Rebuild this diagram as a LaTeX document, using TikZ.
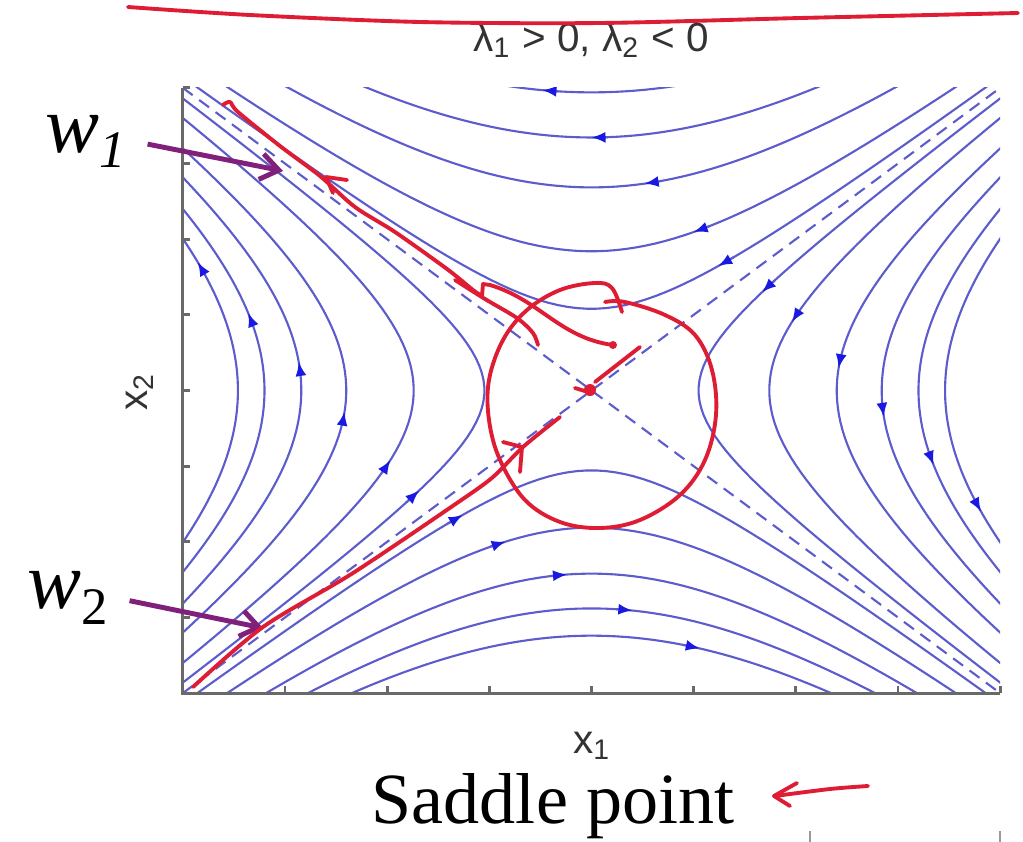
\documentclass[tikz,border=0pt]{standalone}
\usepackage{fontspec}
\setmainfont{Liberation Serif}
\setsansfont{Liberation Sans}
\usetikzlibrary{arrows.meta}
\definecolor{traj}{RGB}{92,92,205}
\definecolor{trajtip}{RGB}{25,25,225}
\definecolor{ink}{RGB}{222,28,52}
\definecolor{pen}{RGB}{128,32,122}
\definecolor{axisgray}{RGB}{105,105,105}

\begin{document}
\begin{tikzpicture}[
  x=0.01cm, y=-0.01cm,
  flow/.style={traj, line width=0.6pt},
  flowtip/.style={traj, line width=0.6pt, -{Latex[length=1.4mm,width=1.1mm,color=trajtip]}},
  sep/.style={traj, line width=0.6pt, dash pattern=on 3.5pt off 2.3pt},
  axis/.style={axisgray, line width=0.8pt},
  lbl/.style={font=\sffamily\fontsize{11.5}{13}\selectfont, text=black!80, inner sep=1pt},
  wlbl/.style={font=\fontsize{23}{26}\selectfont\itshape, inner sep=2pt, anchor=base west},
  title/.style={font=\fontsize{20.5}{24}\selectfont, inner sep=0pt},
  pointer/.style={pen, line width=1.4pt, -{Straight Barb[length=1.8mm,width=2.6mm]}},
  scrawl/.style={ink, line width=1.1pt, line cap=round, line join=round}
]
\path[fill=white, use as bounding box] (0,0) rectangle (1023,842);

% phase portrait, box is [-1,1]^2
\begin{scope}[shift={(591.5,390.5)}, x=4.085cm, y=3.025cm]
  \begin{scope}
    \clip (-1,-1) rectangle (1,1);
    \draw[sep] (-1,-1) -- (1,1);
    \draw[sep] (-1,1) -- (1,-1);
    % top
    \foreach \k/\s in {0.27/-0.31, 0.46/-0.25, 0.671/-0.13, 0.836/0, 0.985/0.12} {
      \draw[flow] plot[domain=-1.05:1.05, samples=90] ({-\x},{sqrt((\x)*(\x)+\k*\k)});
      \draw[flowtip] plot[domain=\s-0.04:\s, samples=3] ({-\x},{sqrt((\x)*(\x)+\k*\k)});
    }
    % bottom
    \foreach \k/\s in {0.264/-0.315, 0.453/-0.21, 0.605/-0.06, 0.72/0.1, 0.81/0.265} {
      \draw[flow] plot[domain=-1.05:1.05, samples=90] ({\x},{-sqrt((\x)*(\x)+\k*\k)});
      \draw[flowtip] plot[domain=\s-0.04:\s, samples=3] ({\x},{-sqrt((\x)*(\x)+\k*\k)});
    }
    % left
    \foreach \k/\s in {0.262/-0.33, 0.435/-0.23, 0.6/-0.07, 0.71/0.094, 0.8/0.256, 0.865/0.424} {
      \draw[flow] plot[domain=-1.05:1.05, samples=90] ({-sqrt((\x)*(\x)+\k*\k)},{\x});
      \draw[flowtip] plot[domain=\s-0.04:\s, samples=3] ({-sqrt((\x)*(\x)+\k*\k)},{\x});
    }
    % right
    \foreach \k/\s in {0.262/-0.325, 0.435/-0.226, 0.6/-0.074, 0.71/0.087, 0.8/0.246, 0.865/0.4} {
      \draw[flow] plot[domain=-1.05:1.05, samples=90] ({sqrt((\x)*(\x)+\k*\k)},{-\x});
      \draw[flowtip] plot[domain=\s-0.04:\s, samples=3] ({sqrt((\x)*(\x)+\k*\k)},{-\x});
    }
  \end{scope}
  \draw[axis] (-1,1) -- (-1,-1) -- (1,-1);
  \foreach \t in {-1,-0.75,...,1} {
    \draw[axis] (\t,-1) -- ++(0,0.025);
    \draw[axis] (-1,\t) -- ++(0.018,0);
  }
\end{scope}

\node[lbl] (lam) at (591,40) {λ\textsubscript{1} > 0, λ\textsubscript{2} < 0};
\node[lbl] (xone) at (592,746) {x\textsubscript{1}};
\node[lbl, rotate=90] (xtwo) at (140,392) {x\textsubscript{2}};
\node[title] (saddle) at (553,806) {Saddle point};

\node[wlbl] (w1) at (38,152) {w\raisebox{-4.5pt}{\fontsize{15}{16}\selectfont 1}};
\node[wlbl] (w2) at (20,608) {w\raisebox{-4.8pt}{\fontsize{15}{16}\selectfont\upshape 2}};
\coordinate (w1end) at (283,171);
\coordinate (w2end) at (263,628);
\draw[pointer, shorten <=4pt] (w1.east) -- (w1end);
\draw[pointer, shorten <=4pt] (w2.east) -- (w2end);

% pen marks
\draw[scrawl] plot[smooth] coordinates {(128,7) (250,15) (420,22) (600,23) (800,18) (1018,13)};
\draw[scrawl] plot[smooth] coordinates {(223,105) (230,102) (238,112) (280,146) (320,176) (355,207) (395,232) (447,269) (473,290) (482,296)}
  -- (483,284) -- (490,285) .. controls (540,300) and (560,338) .. (613,345);
\fill[ink] (613,345) circle (0.4mm);
\draw[scrawl] plot[smooth] coordinates {(455,280) (485,299) (517,318) (533,333) (538,345)};
\draw[scrawl] (347,180) -- (326,177) -- (333,193);
\draw[scrawl] plot[smooth] coordinates {(193,687) (263,627) (353,573) (457,503) (493,477) (523,447) (560,417)};
\draw[scrawl] (503,442) -- (522,447) -- (520,472);
\draw[scrawl] (640,347) -- (595,382);
\fill[ink] (590,390) circle (0.6mm);
\draw[scrawl] (575,388) -- (588,392);
\draw[scrawl] plot[smooth, tension=0.6] coordinates {(622,312) (612,288) (595,283) (560,290) (527,310) (503,340) (489,380) (489,420) (500,460) (525,500) (560,522) (600,528) (640,520) (680,495) (705,460) (716,415) (712,370) (695,335) (665,315) (625,302) (605,302)};
\draw[scrawl] plot[smooth] coordinates {(868,786) (830,789) (775,796)};
\draw[scrawl] (797,783) -- (774,796) -- (790,806);

\draw[black!40, line width=0.5pt] (810,831) -- (810,842);
\draw[black!40, line width=0.5pt] (1000,831) -- (1000,842);
\end{tikzpicture}
\end{document}
